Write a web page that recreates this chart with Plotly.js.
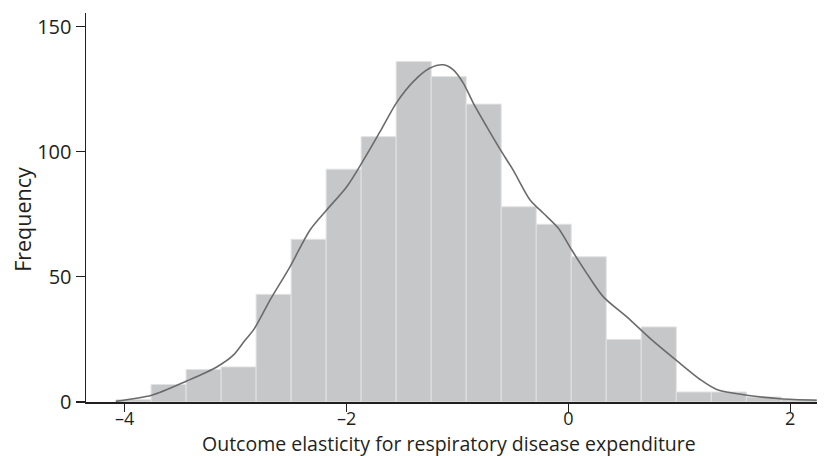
<!DOCTYPE html>
<html>
<head>
<meta charset="utf-8">
<script src="https://cdn.plot.ly/plotly-3.0.1.min.js"></script>
<style>html,body{margin:0;padding:0;background:#fff;}#chart{width:825px;height:456px;}</style>
</head>
<body>
<div id="chart"></div>
<script>
// Histogram bins (left edge of first bin and common bin width) and counts
const binStart = -4.078;
const binWidth = 0.3157;
const counts = [1, 7, 13, 14, 43, 65, 93, 106, 136, 130, 119, 78, 71, 58, 25, 30, 4, 4, 2, 1];

// Kernel density curve, scaled to frequency
const kdeX = [-4.080, -3.757, -3.441, -3.170, -3.021, -2.915, -2.840, -2.735, -2.690, -2.510, -2.329, -2.179, -1.998, -1.849, -1.698, -1.547, -1.398, -1.247, -1.127, -1.037, -0.947, -0.857, -0.736, -0.616, -0.496, -0.345, -0.225, -0.090, 0.031, 0.166, 0.316, 0.527, 0.737, 0.977, 1.188, 1.338, 1.609, 1.909, 2.240];
const kdeY = [0.3, 2.7, 8.4, 14, 18.7, 24.7, 28.7, 37, 40.7, 54, 68.7, 76.7, 86, 96.5, 108, 119.7, 128, 133.4, 134.7, 132.7, 127.4, 119.4, 110, 101, 92.5, 80.7, 75.4, 69.4, 60.7, 51.4, 42, 34, 25.4, 16.5, 9, 5, 2.7, 1.3, 0.7];

const xTicks = [-4, -2, 0, 2];
const yTicks = [0, 50, 100, 150];

const xTitle = 'Outcome elasticity for respiratory disease expenditure';
const yTitle = 'Frequency';

const centers = counts.map((_, i) => binStart + binWidth * (i + 0.5));

const font = "'Open Sans', 'Noto Sans', sans-serif";
const ink = '#231f20';

const traces = [
  {
    type: 'bar',
    x: centers,
    y: counts,
    width: binWidth,
    marker: {color: '#c6c7c9', line: {color: '#e2e2e3', width: 1}},
    hoverinfo: 'x+y',
    showlegend: false
  },
  {
    type: 'scatter',
    mode: 'lines',
    x: kdeX,
    y: kdeY,
    line: {color: '#6b6b6b', width: 1.6, shape: 'spline', smoothing: 0.8},
    showlegend: false
  }
];

const layout = {
  width: 825,
  height: 456,
  margin: {l: 86, r: 8, t: 13, b: 54},
  paper_bgcolor: '#ffffff',
  plot_bgcolor: '#ffffff',
  bargap: 0,
  font: {family: font, size: 20, color: ink},
  xaxis: {
    range: [-4.349, 2.242],
    tickvals: xTicks,
    ticktext: xTicks.map(v => v < 0 ? '\u2013' + Math.abs(v) : String(v)),
    ticks: 'outside',
    ticklen: 8,
    tickwidth: 1.3,
    tickcolor: ink,
    ticklabelstandoff: -8,
    showline: true,
    linecolor: ink,
    linewidth: 1.5,
    showgrid: false,
    zeroline: false,
    tickfont: {size: 18}
  },
  yaxis: {
    range: [0, 155.4],
    tickvals: yTicks,
    ticks: 'outside',
    ticklen: 9,
    tickwidth: 1.3,
    tickcolor: ink,
    showline: true,
    linecolor: ink,
    linewidth: 1.5,
    showgrid: false,
    zeroline: false,
    tickfont: {size: 20}
  },
  annotations: [
    {
      text: xTitle,
      xref: 'paper', yref: 'paper',
      x: 0.497, y: -0.106,
      xanchor: 'center', yanchor: 'middle',
      showarrow: false,
      font: {size: 19.5, color: ink}
    },
    {
      text: yTitle,
      xref: 'paper', yref: 'paper',
      x: -0.088, y: 0.47,
      xanchor: 'center', yanchor: 'middle',
      textangle: -90,
      showarrow: false,
      font: {size: 21.5, color: ink}
    }
  ]
};

Plotly.newPlot('chart', traces, layout, {displayModeBar: false, staticPlot: true});
</script>
</body>
</html>
